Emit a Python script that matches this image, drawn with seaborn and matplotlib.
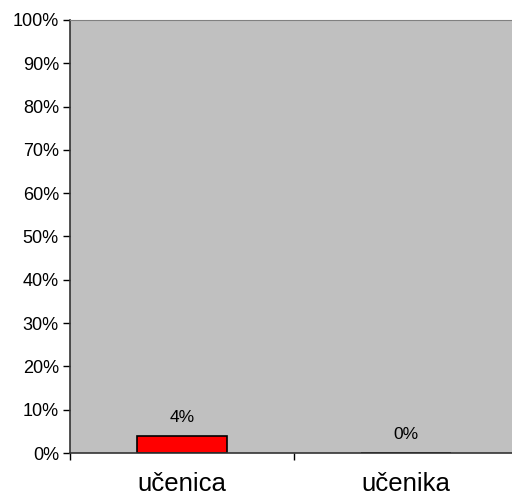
import matplotlib
matplotlib.use('Agg')
import matplotlib.pyplot as plt
from matplotlib.ticker import PercentFormatter, FixedLocator
import pandas as pd
import seaborn as sns

CATEGORIES = ['učenica', 'učenika']
VALUES = [4, 0]
Y_TICKS = list(range(0, 101, 10))

df = pd.DataFrame({'Kategorija': CATEGORIES, 'Postotak': VALUES})

sns.set_style('white')
plt.rcParams['font.family'] = ['Liberation Sans', 'DejaVu Sans']

fig = plt.figure(figsize=(5.12, 4.97), dpi=100)
ax = fig.add_axes([70 / 512, 44 / 497, 448 / 512, 433 / 497])
ax.set_facecolor('#C0C0C0')

sns.barplot(data=df, x='Kategorija', y='Postotak', color='#FF0000',
            edgecolor='black', linewidth=1.2, width=0.4, saturation=1, ax=ax)

for cont in ax.containers:
    ax.bar_label(cont, labels=[f'{v}%' for v in VALUES], padding=8,
                 fontsize=12.5, color='black')

ax.set_xlim(-0.5, 1.5)
ax.set_ylim(0, 100)
ax.set_yticks(Y_TICKS)
ax.yaxis.set_major_formatter(PercentFormatter(decimals=0))
ax.tick_params(axis='y', which='major', direction='out', length=5, width=1,
               color='black', labelcolor='black', labelsize=13, pad=3, left=True)
ax.tick_params(axis='x', which='major', length=0, labelsize=18.5, pad=14,
               labelcolor='black')
ax.xaxis.set_minor_locator(FixedLocator([-0.5, 0.5, 1.5]))
ax.tick_params(axis='x', which='minor', direction='out', length=5, width=1,
               color='black', bottom=True)
ax.set_xlabel('')
ax.set_ylabel('')

for side in ['left', 'bottom']:
    ax.spines[side].set_color('#333333')
    ax.spines[side].set_linewidth(1.2)
ax.spines['top'].set_color('#808080')
ax.spines['right'].set_visible(False)

fig.savefig('out.png', dpi=100)
